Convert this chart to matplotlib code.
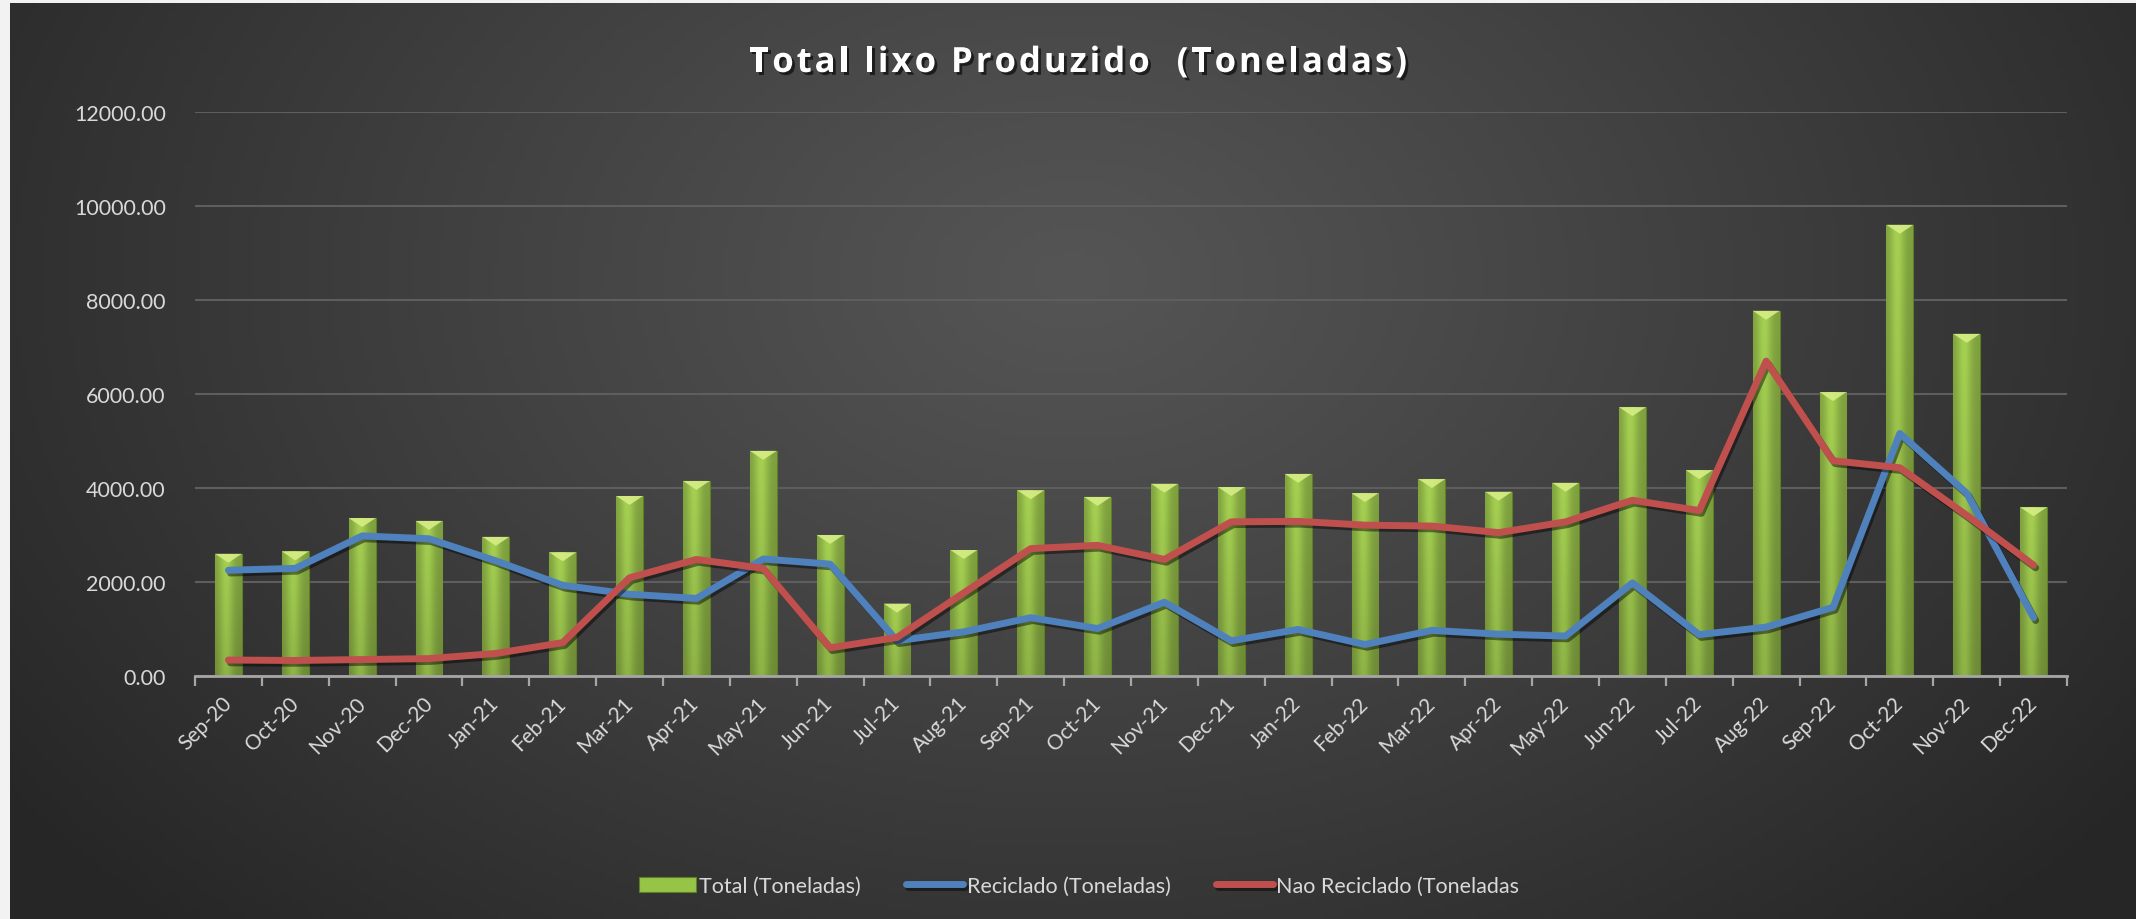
import matplotlib
matplotlib.use("Agg")
import matplotlib.pyplot as plt
import matplotlib.patheffects as pe
from matplotlib.patches import Polygon
from matplotlib.ticker import FixedLocator, FormatStrFormatter
import numpy as np

plt.rcParams["font.family"] = ["Lato", "DejaVu Sans"]

# ── data ─────────────────────────────────────────────────────────────────────
months = ["Sep-20", "Oct-20", "Nov-20", "Dec-20", "Jan-21", "Feb-21", "Mar-21",
          "Apr-21", "May-21", "Jun-21", "Jul-21", "Aug-21", "Sep-21", "Oct-21",
          "Nov-21", "Dec-21", "Jan-22", "Feb-22", "Mar-22", "Apr-22", "May-22",
          "Jun-22", "Jul-22", "Aug-22", "Sep-22", "Oct-22", "Nov-22", "Dec-22"]
total = [2600, 2650, 3360, 3300, 2960, 2630, 3830, 4150, 4790, 3000, 1540, 2680,
         3950, 3810, 4090, 4020, 4300, 3890, 4190, 3920, 4110, 5720, 4380, 7770,
         6040, 9600, 7280, 3590]
reciclado = [2250, 2290, 2980, 2920, 2450, 1930, 1740, 1650, 2490, 2380, 750, 940,
             1240, 1010, 1570, 750, 990, 670, 970, 890, 850, 1980, 880, 1040,
             1460, 5160, 3890, 1240]
nao_reciclado = [340, 330, 350, 370, 480, 710, 2090, 2480, 2290, 600, 820, 1770,
                 2710, 2780, 2480, 3280, 3290, 3210, 3190, 3050, 3280, 3740, 3520,
                 6700, 4580, 4430, 3420, 2360]
title = "Total lixo Produzido  (Toneladas)"

W, H = 2136, 920
fig = plt.figure(figsize=(W / 100, H / 100), dpi=100, facecolor="#f2f2f2")

# ── dark radial background panel ─────────────────────────────────────────────
bg = fig.add_axes([10 / W, 0, 1 - 10 / W, 1 - 4 / H], zorder=-10)
gx, gy = np.meshgrid(np.linspace(0, 1, 400), np.linspace(0, 1, 200))
r = np.sqrt(((gx - 0.5) / 0.62) ** 2 + ((gy - 0.3) / 1.0) ** 2)
r = np.clip(r, 0, 1) ** 1.1
c0 = np.array([0x55, 0x55, 0x55]) / 255
c1 = np.array([0x26, 0x26, 0x26]) / 255
img = c0[None, None, :] * (1 - r[..., None]) + c1[None, None, :] * r[..., None]
bg.imshow(img, aspect="auto", extent=[0, 1, 0, 1], origin="upper")
bg.set_axis_off()

# ── main axes ────────────────────────────────────────────────────────────────
ax = fig.add_axes([195 / W, 1 - 677 / H, (2067 - 195) / W, (677 - 113) / H])
ax.patch.set_alpha(0)
x = np.arange(len(months))

bar_w = 0.4
bars = ax.bar(x, total, width=bar_w, color="#96c446", edgecolor="#5f7f25",
              linewidth=0.8, zorder=2, label="Total (Toneladas)")

# cylinder-like shading inside each bar
prof = np.linspace(0, 1, 40)
hshade = 0.78 + 0.24 * np.exp(-((prof - 0.42) / 0.28) ** 2)
vshade = np.linspace(0.86, 1.0, 60)[:, None]
base = np.array([0xa2, 0xcd, 0x50]) / 255
shade = np.clip(hshade[None, :, None] * vshade[..., None] * base[None, None, :], 0, 1)
for b in bars:
    x0, y0 = b.get_x(), b.get_y()
    w, h = b.get_width(), b.get_height()
    im = ax.imshow(shade, extent=[x0, x0 + w, y0, y0 + h], aspect="auto",
                   origin="lower", zorder=2.1)
    im.set_clip_path(b)
    # light bevel at top
    tri_h = 190
    ax.add_patch(Polygon([[x0, y0 + h], [x0 + w, y0 + h], [x0 + w / 2, y0 + h - tri_h]],
                         closed=True, facecolor="#d6ee86", edgecolor="none",
                         alpha=0.9, zorder=2.2))

shadow = [pe.SimpleLineShadow(offset=(1.5, -2), shadow_color="black", alpha=0.45),
          pe.Normal()]
ax.plot(x, reciclado, color="#4f81bd", lw=5, solid_capstyle="round",
        solid_joinstyle="round", zorder=3, path_effects=shadow,
        label="Reciclado (Toneladas)")
ax.plot(x, nao_reciclado, color="#c0504d", lw=5, solid_capstyle="round",
        solid_joinstyle="round", zorder=3, path_effects=shadow,
        label="Nao Reciclado (Toneladas")

ax.set_xlim(-0.5, len(months) - 0.5)
ax.set_ylim(0, 12000)
ax.yaxis.set_major_locator(FixedLocator(np.arange(0, 12001, 2000)))
ax.yaxis.set_major_formatter(FormatStrFormatter("%.2f"))
ax.grid(axis="y", color="#5e5e5e", linewidth=1.5, zorder=0)
ax.set_axisbelow(True)

for s in ["top", "right", "left"]:
    ax.spines[s].set_visible(False)
ax.spines["bottom"].set_color("#a6a6a6")
ax.spines["bottom"].set_linewidth(2)

ax.set_xticks(x)
ax.set_xticklabels(months, rotation=45, ha="right", va="center",
                   rotation_mode="anchor", fontsize=15, color="#d9d9d9")
ax.tick_params(axis="x", which="major", length=0, pad=17)
ax.set_xticks(np.arange(-0.5, len(months)), minor=True)
ax.tick_params(axis="x", which="minor", length=7, width=1.6, color="#a6a6a6",
               direction="out")
ax.tick_params(axis="y", length=0, pad=21, labelsize=15.5, labelcolor="#d9d9d9")

# ── title with extra letter spacing (Excel style) ────────────────────────────
tkw = dict(fontsize=25, fontweight="bold", color="white",
           family=["Open Sans", "DejaVu Sans"], va="center", ha="left")
renderer = fig.canvas.get_renderer()


def char_w(s):
    t = fig.text(0, 0, s, **tkw)
    w = t.get_window_extent(renderer).width
    t.remove()
    return w


space_w = char_w("a a") - char_w("aa")
widths = [space_w if ch == " " else char_w(ch) for ch in title]
tracking = 3.0
total_w = sum(widths) + tracking * (len(title) - 1)
xpos = 1078 - total_w / 2
title_fx = [pe.withSimplePatchShadow(offset=(2, -2), shadow_rgbFace="black", alpha=0.6)]
for ch, cw in zip(title, widths):
    if ch != " ":
        fig.text(xpos / W, 1 - 64 / H, ch, path_effects=title_fx, **tkw)
    xpos += cw + tracking

handles, labels = ax.get_legend_handles_labels()
order = [labels.index("Total (Toneladas)"), labels.index("Reciclado (Toneladas)"),
         labels.index("Nao Reciclado (Toneladas")]
leg = fig.legend([handles[i] for i in order], [labels[i] for i in order],
                 loc="center", bbox_to_anchor=(1079 / W, 1 - 887 / H), ncol=3,
                 frameon=False, fontsize=15.5, labelcolor="#d9d9d9",
                 handlelength=2.65, handletextpad=0.15, columnspacing=2.1)

fig.savefig("out.png", dpi=100, facecolor=fig.get_facecolor())
